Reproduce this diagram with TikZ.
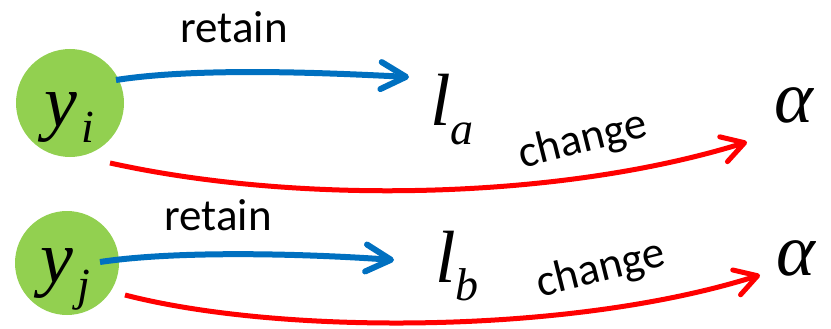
\documentclass[tikz,border=0pt]{standalone}
\usepackage{fontspec}
\setmainfont{Carlito}
\newfontfamily\serifital{Liberation Serif Italic}
\usetikzlibrary{arrows.meta,calc}
\definecolor{dotgreen}{RGB}{146,208,80}
\definecolor{retblue}{RGB}{0,112,192}
\definecolor{chred}{RGB}{255,0,0}
\newcommand{\bigit}[1]{\scalebox{1.85}{\serifital\fontsize{40}{40}\selectfont #1}}
\newcommand{\subit}[2][19pt]{\raisebox{-#1}{\scalebox{1.15}{\serifital\fontsize{40}{40}\selectfont #2}}}
\tikzset{
  dot/.style={circle, fill=dotgreen, draw=none, minimum size=#1, inner sep=0pt},
  lab/.style={font=\fontsize{45}{50}\selectfont, inner sep=0pt},
  sym/.style={inner sep=0pt, anchor=base west},
  retarrow/.style={draw=retblue, line width=6pt, -{Straight Barb[length=25pt,width=27pt,round]}},
  charrow/.style={draw=chred, line width=5pt, -{Straight Barb[length=22pt,width=26pt,round]}},
}
\begin{document}
\begin{tikzpicture}[x=1pt,y=-1pt]
\useasboundingbox (0,0) rectangle (831,329);
% nodes
\node[dot=108pt] (yi) at (70,103) {};
\node[dot=104pt] (yj) at (67,263) {};
\node[sym] (yitext) at (44,126) {\bigit{y}\hspace{4pt}\subit[17pt]{i}};
\node[sym] (yjtext) at (40,282) {\bigit{y}\hspace{4pt}\subit[18pt]{j}};
\node[sym] (la) at (430,125) {\bigit{l}\subit[20pt]{a}};
\node[sym] (lb) at (435,282) {\bigit{l}\subit[18pt]{b}};
\node[inner sep=0pt, anchor=base] (al1) at (794,123) {\bigit{α}};
\node[inner sep=0pt, anchor=base] (al2) at (796,275) {\bigit{α}};
% connector end points
\coordinate (s1) at ($(yi)+(46,-23)$);
\coordinate (e1) at (409,77);
\coordinate (s2) at ($(yi)+(40,60)$);
\coordinate (e2) at (747,142);
\coordinate (s3) at ($(yj)+(33,-1)$);
\coordinate (e3) at (394,260);
\coordinate (s4) at ($(yj)+(58,32)$);
\coordinate (e4) at (760,275);
% connectors
\draw[retarrow] (s1) .. controls (200,67) and (330,73) .. (e1);
\draw[charrow] (s2) .. controls (300,205) and (560,200) .. (e2);
\draw[retarrow] (s3) .. controls (180,250) and (310,254) .. (e3);
\draw[charrow] (s4) .. controls (280,335) and (570,335) .. (e4);
% labels
\node[lab, anchor=base] (r1) at (234,43) {retain};
\node[lab, anchor=base] (r2) at (218,230) {retain};
\node[lab, rotate=14] (c1) at (583,141) {change};
\node[lab, rotate=14] (c2) at (601,270) {change};
\end{tikzpicture}
\end{document}
